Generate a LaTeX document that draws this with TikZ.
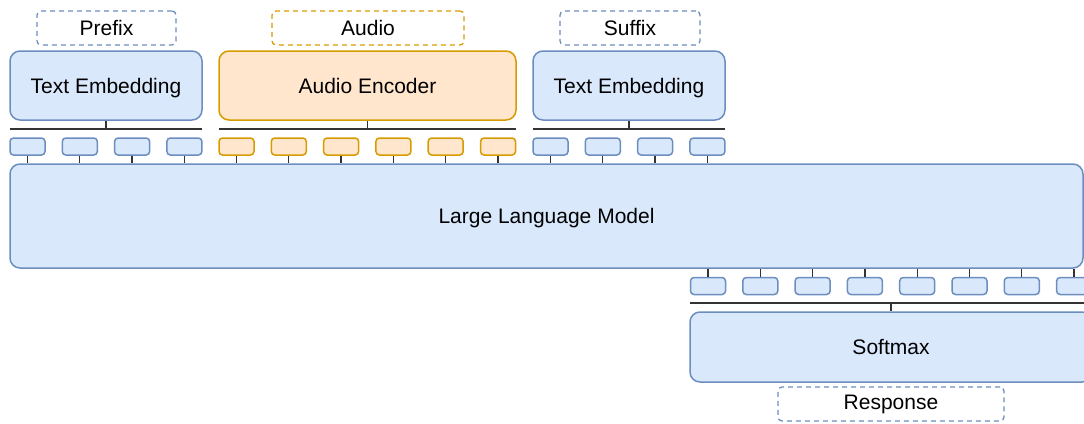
\documentclass[tikz,border=0pt]{standalone}
\usepackage{fontspec}
\setmainfont{Liberation Sans}
\definecolor{bfill}{HTML}{DAE8FC}
\definecolor{bdraw}{HTML}{6C8EBF}
\definecolor{ofill}{HTML}{FFE6CC}
\definecolor{odraw}{HTML}{D79B00}
\definecolor{lcol}{HTML}{333333}
\tikzset{
  blk/.style={draw=bdraw,fill=bfill,line width=1.5pt,rounded corners=10pt,inner sep=0pt,text depth=0pt,font=\fontsize{21}{24}\selectfont},
  oblk/.style={blk,draw=odraw,fill=ofill},
  tok/.style={draw=bdraw,fill=bfill,line width=1.5pt,rounded corners=3.5pt,minimum width=35pt,minimum height=17pt,inner sep=0pt},
  otok/.style={tok,draw=odraw,fill=ofill},
  lbl/.style={draw=bdraw,dash pattern=on 5pt off 4pt,line width=1.3pt,rounded corners=4pt,inner sep=0pt,minimum height=34pt,font=\fontsize{21}{24}\selectfont},
  olbl/.style={lbl,draw=odraw},
  wire/.style={draw=lcol,line width=1.3pt},
}
\begin{document}
\begin{tikzpicture}[x=1pt,y=-1pt]
\useasboundingbox (0,0) rectangle (1084,423);
\clip (0,0) rectangle (1084,423);
% top labels
\node[lbl,minimum width=139pt] (prefix) at (106.5,28) {Prefix};
\node[olbl,minimum width=192pt] (audio) at (368,28) {Audio};
\node[lbl,minimum width=140pt] (suffix) at (630,28) {Suffix};
% encoders
\node[blk,minimum width=192pt,minimum height=69pt] (te1) at (106,85.5) {Text Embedding};
\node[oblk,minimum width=297pt,minimum height=69pt] (ae) at (367.5,85.5) {Audio Encoder};
\node[blk,minimum width=192pt,minimum height=69pt] (te2) at (629,85.5) {Text Embedding};
% LLM
\node[blk,minimum width=1073pt,minimum height=104pt] (llm) at (546.5,216) {Large Language Model};
% buses
\coordinate (b1l) at (10,129); \coordinate (b1r) at (202,129);
\coordinate (b2l) at (219,129); \coordinate (b2r) at (516,129);
\coordinate (b3l) at (533,129); \coordinate (b3r) at (725,129);
\draw[wire] (b1l) -- (b1r);
\draw[wire] (b2l) -- (b2r);
\draw[wire] (b3l) -- (b3r);
\draw[wire] (te1.south) -- (te1.south |- b1l);
\draw[wire] (ae.south) -- (ae.south |- b2l);
\draw[wire] (te2.south) -- (te2.south |- b3l);
% input tokens
\foreach \i in {0,...,3}{
  \node[tok] (pa\i) at ({27.5+52.3*\i},146.5) {};
  \draw[wire] (pa\i.south) -- (pa\i.south |- llm.north);
}
\foreach \i in {0,...,5}{
  \node[otok] (au\i) at ({236.5+52.3*\i},146.5) {};
  \draw[wire] (au\i.south) -- (au\i.south |- llm.north);
}
\foreach \i in {0,...,3}{
  \node[tok] (su\i) at ({550.5+52.3*\i},146.5) {};
  \draw[wire] (su\i.south) -- (su\i.south |- llm.north);
}
% output tokens
\foreach \i in {0,...,7}{
  \node[tok] (ou\i) at ({708+52.3*\i},286) {};
  \draw[wire] (ou\i.north |- llm.south) -- (ou\i.north);
}
% softmax
\node[blk,minimum width=402pt,minimum height=70pt] (sm) at (891,347) {Softmax};
\coordinate (b4l) at (690,303); \coordinate (b4r) at (1092,303);
\draw[wire] (b4l) -- (b4r);
\draw[wire] (sm.north |- b4l) -- (sm.north);
\node[lbl,minimum width=226pt] (resp) at (891,404) {Response};
\end{tikzpicture}
\end{document}
